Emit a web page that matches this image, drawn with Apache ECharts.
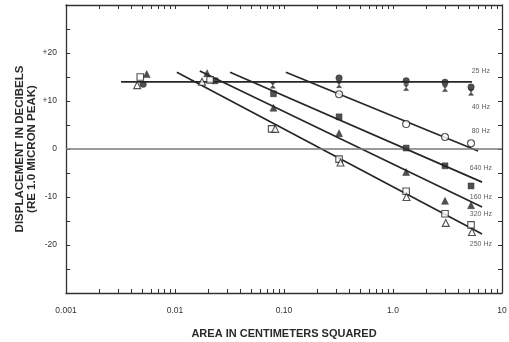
<!DOCTYPE html>
<html><head><meta charset="utf-8">
<script src="https://cdn.jsdelivr.net/npm/echarts@6/dist/echarts.min.js"></script>
<style>html,body{margin:0;padding:0;background:#fff}#c{width:509px;height:342px}</style>
</head><body><div id="c"></div>
<script>
// ---- data ----
const xTickValues = [0.001,0.002,0.003,0.004,0.005,0.006,0.007,0.008,0.009,
  0.01,0.02,0.03,0.04,0.05,0.06,0.07,0.08,0.09,
  0.1,0.2,0.3,0.4,0.5,0.6,0.7,0.8,0.9,
  1,2,3,4,5,6,7,8,9,10];
const xLabelText = {0.001:'0.001', 0.01:'0.01', 0.1:'0.10', 1:'1.0', 10:'10'};
const yLabelValues = [-20,-10,0,10,20];

// measured points (area cm^2, displacement dB)
const area25 = [0.0051, 0.32, 1.32, 3.0, 5.2];
const db25   = [13.5, 14.8, 14.2, 13.9, 12.9];
const area40 = [0.079, 0.32, 1.32, 3.0, 5.2];
const db40   = [13.3, 13.4, 12.8, 12.6, 11.8];
const area80 = [0.32, 1.32, 3.0, 5.2];
const db80   = [11.4, 5.2, 2.5, 1.2];
const area640 = [0.0233, 0.08, 0.32, 1.32, 3.0, 5.2];
const db640   = [14.2, 11.5, 6.7, 0.2, -3.5, -7.7];
const area160 = [0.0055, 0.0197, 0.08, 0.32, 1.32, 3.0, 5.2];
const db160   = [15.6, 15.8, 8.6, 3.3, -4.8, -10.8, -11.7];
const area320 = [0.0048, 0.021, 0.077, 0.32, 1.32, 3.0, 5.2];
const db320   = [15.0, 14.4, 4.2, -2.1, -8.8, -13.5, -15.8];
const area250 = [0.0045, 0.0177, 0.083, 0.33, 1.33, 3.05, 5.3];
const db250   = [13.3, 14.0, 4.2, -2.8, -10.0, -15.4, -17.3];

// fitted lines (endpoints)
const fitFlatX = [0.0032, 5.3],  fitFlatY = [14, 14];
const fit80X   = [0.104, 6.03],  fit80Y   = [16.0, -0.4];
const fit640X  = [0.032, 6.56],  fit640Y  = [16.0, -6.9];
const fit160X  = [0.0169, 6.56], fit160Y  = [16.25, -12.1];
const fit250X  = [0.0104, 6.56], fit250Y  = [16.0, -17.7];

// frequency labels at right (data coords)
const freqNames = ['25 Hz','40 Hz','80 Hz','640 Hz','160 Hz','320 Hz','250 Hz'];
const freqLabelX = 6.4;
const freqLabelY = [16.3, 8.8, 3.8, -4.0, -10.0, -13.5, -19.8];

const xTitle = 'AREA IN CENTIMETERS SQUARED';
const yTitle = 'DISPLACEMENT IN DECIBELS\n(RE 1.0 MICRON PEAK)';

// ---- build ----
const zip = (xs, ys) => xs.map((x, i) => [x, ys[i]]);
const FONT = '"Liberation Sans", Arial, sans-serif';
const INK = '#262626';

function pts(name, xs, ys, symbol, filled, size) {
  return {
    name, type: 'scatter', data: zip(xs, ys), symbol, symbolSize: size || 6.5, z: 5,
    itemStyle: filled ? {color: INK, borderColor: INK, borderWidth: 0.5}
                      : {color: '#fff', borderColor: INK, borderWidth: 1.1}
  };
}
function fit(xs, ys) {
  return {type: 'line', data: zip(xs, ys), symbol: 'none', silent: true, z: 3,
          lineStyle: {color: INK, width: 1.7}};
}
const hourglass = 'path://M0,0L10,0L0,12L10,12Z';

const tickCommon = {show: true, inside: true, length: 4, lineStyle: {color: '#333', width: 1}};
const lineCommon = {show: true, onZero: false, lineStyle: {color: '#333', width: 1.3}};

const option = {
  backgroundColor: '#fff',
  animation: false,
  grid: {left: 66, right: 7, top: 5, bottom: 49, containLabel: false, outerBoundsMode: 'none'},
  xAxis: [{
    type: 'log', logBase: 10, min: 0.001, max: 10, position: 'bottom',
    axisLine: lineCommon,
    axisTick: Object.assign({customValues: xTickValues}, tickCommon),
    axisLabel: {
      margin: 13, fontSize: 8.5, color: '#333', fontFamily: FONT,
      formatter: v => xLabelText[+v.toPrecision(3)] || ''
    },
    splitLine: {show: false},
    name: xTitle, nameLocation: 'middle', nameGap: 35,
    nameTextStyle: {fontSize: 11, fontWeight: 'bold', color: '#2a2a2a', fontFamily: FONT}
  }, {
    type: 'log', logBase: 10, min: 0.001, max: 10, position: 'top',
    axisLine: lineCommon,
    axisTick: Object.assign({customValues: xTickValues}, tickCommon),
    axisLabel: {show: false}, splitLine: {show: false}
  }],
  yAxis: [{
    type: 'value', min: -30, max: 30, interval: 5, position: 'left',
    axisLine: lineCommon, axisTick: tickCommon,
    axisLabel: {
      margin: 9, fontSize: 8.5, color: '#333', fontFamily: FONT,
      formatter: v => yLabelValues.includes(v) ? (v > 0 ? '+' + v : String(v)) : ''
    },
    splitLine: {show: false},
    name: yTitle, nameLocation: 'middle', nameRotate: 90, nameGap: 28, nameMoveOverlap: false,
    nameTextStyle: {fontSize: 11.5, fontWeight: 'bold', color: '#2a2a2a', fontFamily: FONT, lineHeight: 12}
  }, {
    type: 'value', min: -30, max: 30, interval: 5, position: 'right',
    axisLine: lineCommon, axisTick: tickCommon,
    axisLabel: {show: false}, splitLine: {show: false}
  }],
  series: [
    Object.assign(fit(fitFlatX, fitFlatY), {
      markLine: {silent: true, symbol: 'none', label: {show: false},
        lineStyle: {color: '#7a7a7a', width: 1.6, type: 'solid'},
        data: [{yAxis: 0}]}
    }),
    fit(fit80X, fit80Y),
    fit(fit640X, fit640Y),
    fit(fit160X, fit160Y),
    fit(fit250X, fit250Y),
    pts('25 Hz', area25, db25, 'circle', true, 6.5),
    pts('40 Hz', area40, db40, hourglass, true, [5, 6]),
    pts('80 Hz', area80, db80, 'circle', false, 7),
    pts('640 Hz', area640, db640, 'rect', true, 6),
    pts('160 Hz', area160, db160, 'triangle', true, 7),
    pts('320 Hz', area320, db320, 'rect', false, 6.5),
    pts('250 Hz', area250, db250, 'triangle', false, 7),
    {
      type: 'scatter', symbolSize: 0, silent: true, z: 6,
      data: freqNames.map((n, i) => ({name: n, value: [freqLabelX, freqLabelY[i]]})),
      label: {show: true, position: 'inside', formatter: p => p.name,
              fontSize: 7, color: '#333', fontFamily: FONT}
    }
  ]
};
const chart = echarts.init(document.getElementById('c'), null, {renderer: 'canvas'});
chart.setOption(option);
</script>
</body></html>
